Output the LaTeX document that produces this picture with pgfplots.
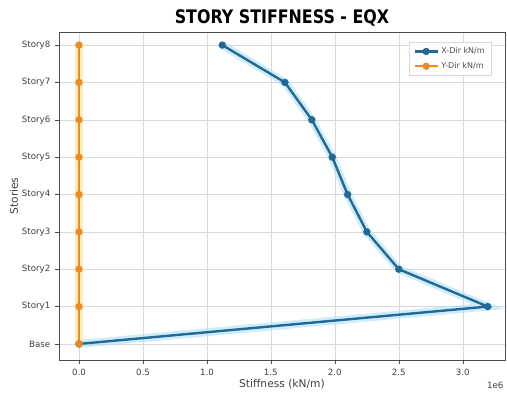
\documentclass[border=0pt]{standalone}
\usepackage{pgfplots}
\pgfplotsset{compat=1.18}
\usepackage{fontspec}
\setmainfont{DejaVu Sans}
\setsansfont{DejaVu Sans}
\newfontfamily\titlefont[FakeStretch=0.85]{DejaVu Sans}
\definecolor{xblue}{RGB}{36,104,150}
\definecolor{xglow}{RGB}{170,225,245}
\definecolor{yorange}{RGB}{236,140,30}
\definecolor{yglow}{RGB}{255,225,150}
\begin{document}
\begin{tikzpicture}
\path[use as bounding box] (0,0) rectangle (380.25pt,297pt);
\begin{axis}[
  name=ax,
  at={(44.25pt,27pt)}, anchor=south west,
  scale only axis, width=334.5pt, height=246pt,
  xmin=-0.156, xmax=3.33, ymin=-0.43, ymax=8.35,
  xtick={0,0.5,1,1.5,2,2.5,3},
  xticklabels={0.0,0.5,1.0,1.5,2.0,2.5,3.0},
  ytick={0,1,2,3,4,5,6,7,8},
  yticklabels={Base,Story1,Story2,Story3,Story4,Story5,Story6,Story7,Story8},
  tick label style={font=\fontsize{6.5}{7}\selectfont, text=black!75},
  /pgf/number format/assume math mode=true,
  tick align=outside, tick style={black!70, thin},
  major tick length=3pt,
  xtick pos=bottom, ytick pos=left,
  grid=major, grid style={black!15, thin},
  axis line style={black!70},
  title={STORY STIFFNESS - EQX},
  title style={font=\titlefont\fontsize{14}{16}\selectfont\bfseries, yshift=-5pt},
  xlabel={Stiffness (kN/m)},
  ylabel={Stories},
  label style={font=\fontsize{8}{9}\selectfont, text=black!75},
  xlabel style={yshift=4pt},
  ylabel style={yshift=-4pt},
  legend pos=north east,
  legend style={font=\fontsize{6}{7}\selectfont, draw=black!15, text=black!70, row sep=1pt},
  legend cell align=left,
]
\addplot[xglow, line width=6pt, opacity=0.6, forget plot] coordinates {
(0,0) (3.195,1) (2.50,2) (2.25,3) (2.10,4) (1.98,5) (1.82,6) (1.61,7) (1.12,8)};
\addplot[yglow, line width=6pt, opacity=0.6, forget plot] coordinates {
(0,0) (0,1) (0,2) (0,3) (0,4) (0,5) (0,6) (0,7) (0,8)};
\addplot[xblue, line width=1.8pt, mark=*, mark size=1.8pt] coordinates {
(0,0) (3.195,1) (2.50,2) (2.25,3) (2.10,4) (1.98,5) (1.82,6) (1.61,7) (1.12,8)};
\addlegendentry{X-Dir kN/m}
\addplot[yorange, line width=1.8pt, mark=*, mark size=1.8pt] coordinates {
(0,0) (0,1) (0,2) (0,3) (0,4) (0,5) (0,6) (0,7) (0,8)};
\addlegendentry{Y-Dir kN/m}
\end{axis}
\node[anchor=north east, font=\fontsize{6.5}{7}\selectfont, text=black!75, inner sep=1pt] at ([yshift=-15pt]ax.south east) {1e6};
\end{tikzpicture}
\end{document}
